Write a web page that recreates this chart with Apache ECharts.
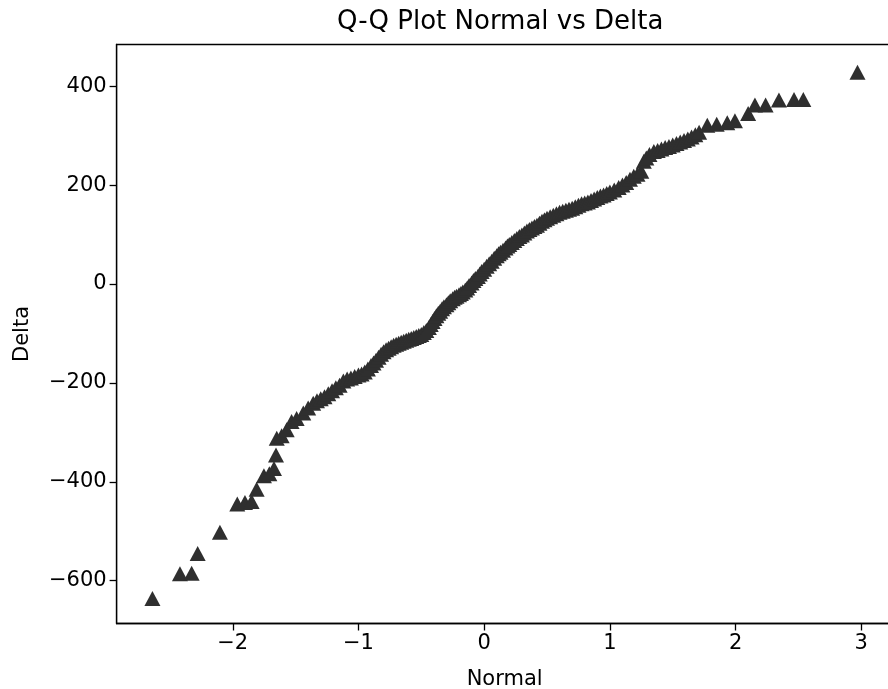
<!DOCTYPE html>
<html>
<head>
<meta charset="utf-8">
<script src="https://cdn.jsdelivr.net/npm/echarts@6/dist/echarts.min.js"></script>
<style>html,body{margin:0;padding:0;background:#fff}#c{width:888px;height:689px}</style>
</head>
<body>
<div id="c"></div>
<script>
// Theoretical normal quantiles (x) and sorted Delta values (y)
const normalX = [
-2.639,-2.42,-2.327,-2.279,-2.102,-1.964,-1.903,-1.85,-1.81,-1.752,-1.709,-1.672,-1.656,-1.65,-1.611,-1.571,-1.532,-1.492,-1.439,-1.40,-1.36,
-1.33,-1.30,-1.27,-1.24,-1.21,-1.18,-1.15,-1.12,-1.09,-1.06,-1.03,-1.00,
-0.975,-0.95,-0.925,-0.90,-0.88,-0.86,-0.84,-0.82,-0.80,-0.78,-0.76,-0.74,-0.72,-0.70,-0.68,-0.66,-0.64,-0.62,-0.60,-0.58,-0.56,-0.54,-0.52,-0.50,
-0.48,-0.46,-0.44,-0.425,-0.41,-0.395,-0.38,-0.365,-0.35,-0.335,-0.32,-0.30,-0.285,-0.27,-0.25,-0.235,-0.22,-0.20,-0.185,-0.17,-0.15,-0.135,-0.12,-0.10,-0.085,-0.07,-0.05,-0.035,-0.02,0.0,
0.02,0.04,0.06,0.08,0.10,0.115,0.13,0.15,0.17,0.185,0.20,0.22,0.24,0.26,0.28,0.30,0.32,0.34,0.36,0.38,0.40,0.42,0.44,0.46,0.48,0.50,
0.525,0.55,0.575,0.60,0.625,0.65,0.675,0.70,0.725,0.75,0.775,0.80,0.825,0.85,0.875,0.90,0.925,0.95,0.975,1.00,
1.035,1.07,1.10,1.13,1.16,1.19,1.22,1.25,1.27,1.29,1.315,
1.35,1.38,1.41,1.44,1.47,1.50,1.53,1.56,1.59,1.62,1.65,1.68,1.71,
1.775,1.85,1.934,1.995,2.10,2.154,2.239,2.345,2.465,2.539,2.97
];
const deltaY = [
-636,-586,-585,-545,-502,-445,-442,-440,-415,-388,-384,-373,-346,-312,-307,-295,-278,-272,-261,-251,-241,
-236,-232,-228,-222,-216,-210,-205,-196,-192,-190,-187,-184,
-182,-178,-172,-165,-160,-154,-148,-142,-137,-133,-130,-127,-124,-122,-120,-118,-116,-114,-112,-110,-108,-106,-104,-102,
-98,-94,-88,-82,-76,-70,-64,-59,-55,-50,-46,-42,-38,-34,-30,-27,-25,-22,-19,-16,-12,-8,-3,2,7,11,15,20,25,30,
36,41,46,52,57,61,64,68,73,77,80,84,88,92,96,99,103,107,110,113,116,119,123,127,130,133,
136,139,142,145,147,149,151,153,156,159,162,164,166,169,172,175,178,180,183,186,
190,195,200,205,212,218,222,228,248,255,262,
268,270,273,276,278,281,284,287,290,293,297,302,307,
321,323,326,330,345,362,362,372,373,373,428
];
const xTicks = [-2,-1,0,1,2,3];
const yTicks = [-600,-400,-200,0,200,400];

const pts = normalX.map((x,i)=>[x, deltaY[i]]);
const FONT = 'DejaVu Sans';
const fmt = v => String(v).replace('-', '\u2212');
const chart = echarts.init(document.getElementById('c'), null, {renderer:'canvas'});
chart.setOption({
  animation:false,
  backgroundColor:'#fff',
  title:{text:'Q-Q Plot Normal vs Delta', left:337, top:9, padding:0,
    textStyle:{fontFamily:FONT, fontSize:26, fontWeight:'normal', color:'#000'}},
  grid:{left:116.6, width:776.1, top:44.5, height:579, show:true, borderColor:'#000', borderWidth:1.3,
    containLabel:false, outerBoundsMode:'none'},
  xAxis:{type:'value', min:-2.924, max:3.25,
    name:'Normal', nameLocation:'middle', nameGap:46,
    nameTextStyle:{fontFamily:FONT, fontSize:21, color:'#000'},
    axisLine:{show:true, onZero:false, lineStyle:{color:'#000', width:1.3}},
    axisTick:{show:true, inside:false, length:7, customValues:xTicks, lineStyle:{color:'#000', width:1.3}},
    axisLabel:{customValues:xTicks, formatter:fmt, margin:10, fontFamily:FONT, fontSize:21, color:'#000'},
    splitLine:{show:false}},
  yAxis:{type:'value', min:-686.6, max:484.3,
    name:'Delta', nameLocation:'middle', nameGap:84, nameRotate:90,
    nameTextStyle:{fontFamily:FONT, fontSize:21, color:'#000'},
    axisLine:{show:true, onZero:false, lineStyle:{color:'#000', width:1.3}},
    axisTick:{show:true, inside:false, length:7, customValues:yTicks, lineStyle:{color:'#000', width:1.3}},
    axisLabel:{customValues:yTicks, formatter:fmt, margin:10, fontFamily:FONT, fontSize:21, color:'#000'},
    splitLine:{show:false}},
  series:[{type:'scatter', data:pts, symbol:'triangle', symbolSize:[16,15],
    itemStyle:{color:'#2f2f2f', opacity:1}}]
});
</script>
</body>
</html>
